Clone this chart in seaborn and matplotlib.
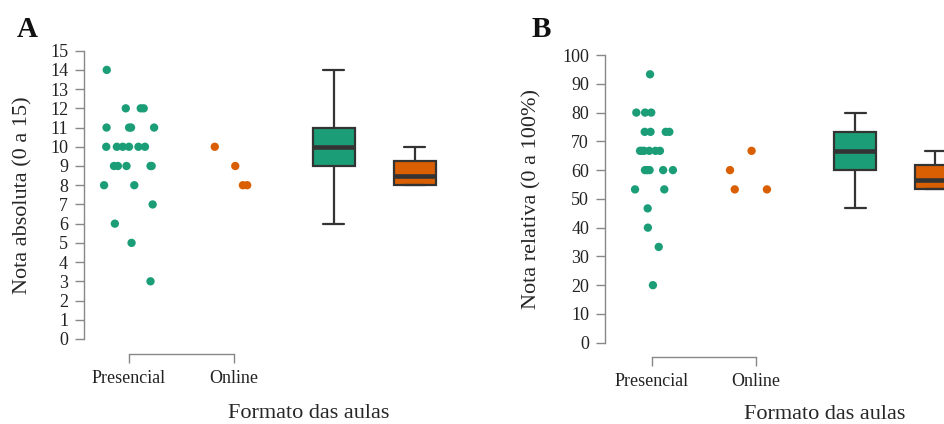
import numpy as np
import pandas as pd
import matplotlib
matplotlib.use("Agg")
import matplotlib.pyplot as plt
import seaborn as sns

# Dados
formatos = ["Presencial", "Online"]
cores = ["#1b9e77", "#d95f02"]

# Painel A: nota absoluta (0 a 15)
abs_presencial = [14, 12, 12, 12, 11, 11, 11, 11, 10, 10, 10, 10, 10, 10,
                  9, 9, 9, 9, 9, 8, 8, 7, 6, 5, 3]
abs_online = [10, 9, 8, 8]

# Painel B: nota relativa (0 a 100%)
rel_presencial = [93.3, 80, 80, 80, 73.3, 73.3, 73.3, 73.3,
                  66.7, 66.7, 66.7, 66.7, 66.7, 66.7,
                  60, 60, 60, 60, 60, 53.3, 53.3, 46.7, 40, 33.3, 20]
rel_online = [66.7, 60, 53.3, 53.3]

# posicoes no eixo x (pontos e caixas)
pos_pontos = {"Presencial": 0.0, "Online": 1.0}
pos_caixas = {"Presencial": 1.95, "Online": 2.72}

sns.set_style("ticks")
plt.rcParams["font.family"] = ["Liberation Serif", "DejaVu Serif"]
plt.rcParams["text.color"] = "#222222"
plt.rcParams["xtick.color"] = "#888888"
plt.rcParams["ytick.color"] = "#888888"
plt.rcParams["xtick.labelcolor"] = "#222222"
plt.rcParams["ytick.labelcolor"] = "#222222"

np.random.seed(7)


def montar(presencial, online):
    df = pd.DataFrame({
        "Formato": ["Presencial"] * len(presencial) + ["Online"] * len(online),
        "Nota": list(presencial) + list(online),
    })
    df["x_ponto"] = df["Formato"].map(pos_pontos)
    df["x_caixa"] = df["Formato"].map(pos_caixas)
    return df


def painel(ax, df, ymax, ystep, whis, ylabel, xlim, ylab_x, xlab_x, xlab_y):
    sns.stripplot(data=df, x="x_ponto", y="Nota", hue="Formato", hue_order=formatos,
                  palette=cores, native_scale=True, jitter=0.25, size=6,
                  linewidth=0, legend=False, ax=ax)
    sns.boxplot(data=df, x="x_caixa", y="Nota", hue="Formato", hue_order=formatos,
                palette=cores, native_scale=True, width=0.52, whis=whis,
                saturation=1, showfliers=False, linecolor="#333333", linewidth=1.6,
                medianprops=dict(color="#333333", linewidth=3.3),
                legend=False, ax=ax)

    ax.set_xlim(*xlim)
    ax.set_ylim(0, ymax)
    ax.set_yticks(np.arange(0, ymax + ystep / 2, ystep))
    ax.set_xticks([pos_pontos[f] for f in formatos])
    ax.set_xticklabels(formatos)

    sns.despine(ax=ax)
    for lado in ["left", "bottom"]:
        ax.spines[lado].set_color("#888888")
        ax.spines[lado].set_linewidth(1.0)
    ax.spines["left"].set_bounds(0, ymax)
    ax.spines["bottom"].set_bounds(0, 1)
    ax.spines["bottom"].set_position(("outward", 10.5))
    ax.tick_params(axis="both", length=6.5, width=1.0, pad=5, labelsize=13)

    ax.set_ylabel(ylabel, fontsize=16)
    ax.yaxis.set_label_coords(ylab_x, 0.5)
    ax.set_xlabel("Formato das aulas", fontsize=16, va="baseline")
    ax.xaxis.set_label_coords(xlab_x, xlab_y)


fig = plt.figure(figsize=(9.45, 4.24), dpi=100)
ax_a = fig.add_axes([0.0889, 0.2005, 0.3979, 0.680])
ax_b = fig.add_axes([0.6402, 0.1917, 0.3979, 0.6785])

painel(ax_a, montar(abs_presencial, abs_online), 15, 1, 1.5,
       "Nota absoluta (0 a 15)", (-0.4286, 3.152), -0.136, 0.598, -0.275)
painel(ax_b, montar(rel_presencial, rel_online), 100, 10, 1.01,
       "Nota relativa (0 a 100%)", (-0.448, 3.157), -0.168, 0.585, -0.265)

fig.text(0.018, 0.9127, "A", fontsize=21, fontweight="bold", color="#111111")
fig.text(0.563, 0.9127, "B", fontsize=21, fontweight="bold", color="#111111")

fig.savefig("out.png", dpi=100)
